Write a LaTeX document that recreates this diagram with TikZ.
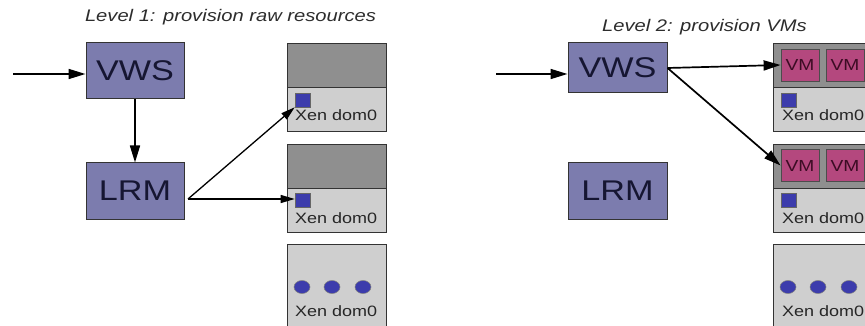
\documentclass[tikz,border=0pt]{standalone}
\usepackage{fontspec}
\setmainfont{Liberation Sans}[FakeStretch=1.2]
\usetikzlibrary{arrows.meta,shapes.geometric}
\definecolor{boxfill}{RGB}{124,124,174}
\definecolor{textdark}{RGB}{22,22,50}
\definecolor{vmfill}{RGB}{180,72,126}
\definecolor{vmtext}{RGB}{60,12,36}
\definecolor{darkgrey}{RGB}{143,143,143}
\definecolor{lightgrey}{RGB}{207,207,207}
\definecolor{bluesq}{RGB}{60,60,172}
\definecolor{titlegrey}{RGB}{45,45,45}
\begin{document}
\begin{tikzpicture}[x=1pt,y=-1pt,
  mainbox/.style={draw=black!80, line width=1pt, fill=boxfill, minimum width=98pt, inner sep=0pt,
    font=\fontsize{28.5}{30}\selectfont, text=textdark},
  darkpart/.style={draw=black!80, line width=0.8pt, fill=darkgrey, minimum width=99pt, minimum height=44pt, inner sep=0pt},
  lightpart/.style={draw=black!80, line width=0.8pt, fill=lightgrey, minimum width=99pt, minimum height=44pt, inner sep=0pt},
  vmbox/.style={draw=black!70, line width=0.8pt, fill=vmfill, minimum width=38pt, minimum height=32pt, inner sep=0pt,
    font=\fontsize{16}{17}\selectfont, text=vmtext},
  sq/.style={draw=black!60, line width=0.6pt, fill=bluesq, minimum width=15pt, minimum height=14pt, inner sep=0pt},
  dot/.style={draw=black!50, line width=0.5pt, fill=bluesq, ellipse, minimum width=16pt, minimum height=13pt, inner sep=0pt},
  xen/.style={anchor=west, inner sep=0pt, font=\fontsize{15}{16}\selectfont, text=black!85},
  title/.style={inner sep=0pt, anchor=base, font=\fontsize{16.8}{18}\selectfont\itshape, text=titlegrey},
  bigarrow/.style={line width=1.7pt, -{Triangle[length=17pt,width=10pt]}},
  smallarrow/.style={line width=1.3pt, -{Triangle[length=14pt,width=8pt]}}
]
\useasboundingbox[fill=white] (0,0) rectangle (865,326);

% ---------------- Level 1 ----------------
\node[title] (t1) at (230.5,21.5) {Level 1: provision raw resources};
\node[mainbox, minimum height=56pt] (vws1) at (135,71) {VWS};
\node[mainbox, minimum height=56pt] (lrm1) at (135,191) {LRM};

\node[darkpart]  (a1top) at (336.5,65) {};
\node[lightpart] (a1bot) at (336.5,109) {};
\node[sq] (sq1) at (302.5,100) {};
\node[xen] (x1) at (295,115.5) {Xen dom0};

\node[darkpart]  (a2top) at (336.5,166) {};
\node[lightpart] (a2bot) at (336.5,210) {};
\node[sq] (sq2) at (302.5,200.5) {};
\node[xen] (x2) at (295,218.5) {Xen dom0};

\node[lightpart, minimum height=84pt] (a3) at (336.5,286) {};
\node[dot] (d1) at (302,287) {};
\node[dot] (d2) at (332,287) {};
\node[dot] (d3) at (363,287) {};
\node[xen] (x3) at (295,311) {Xen dom0};

\coordinate (in1) at (13,74);
\coordinate (lrmout) at (188,199);
\draw[bigarrow] (in1) -- (in1 -| vws1.west);
\draw[bigarrow] (vws1.south) -- (lrm1.north);
\draw[smallarrow] (lrmout) -- (sq1.south west);
\draw[smallarrow] (lrmout) -- (sq2.west |- lrmout);

% ---------------- Level 2 ----------------
\node[title] (t2) at (704.5,31.5) {Level 2: provision VMs};
\node[mainbox, minimum height=50pt, minimum width=99pt] (vws2) at (617.5,68) {VWS};
\node[mainbox, minimum height=56pt, minimum width=99pt] (lrm2) at (617.5,191) {LRM};

\node[darkpart]  (b1top) at (822.5,65) {};
\node[lightpart] (b1bot) at (822.5,109) {};
\node[vmbox] (vm11) at (800,65) {VM};
\node[vmbox] (vm12) at (845,65) {VM};
\node[sq] (sq3) at (789,100) {};
\node[xen] (x4) at (782,115.5) {Xen dom0};

\node[darkpart]  (b2top) at (822.5,166) {};
\node[lightpart] (b2bot) at (822.5,210) {};
\node[vmbox] (vm21) at (800,165.5) {VM};
\node[vmbox] (vm22) at (845,165.5) {VM};
\node[sq] (sq4) at (789,200.5) {};
\node[xen] (x5) at (782,218.5) {Xen dom0};

\node[lightpart, minimum height=84pt] (b3) at (822.5,286) {};
\node[dot] (d4) at (788,287) {};
\node[dot] (d5) at (818,287) {};
\node[dot] (d6) at (849,287) {};
\node[xen] (x6) at (782,311) {Xen dom0};

\coordinate (in2) at (496,74);
\draw[bigarrow] (in2) -- (in2 -| vws2.west);
\draw[bigarrow] (vws2.east) -- (vm11.west);
\draw[bigarrow] (vws2.east) -- (vm21.west);
\end{tikzpicture}
\end{document}
